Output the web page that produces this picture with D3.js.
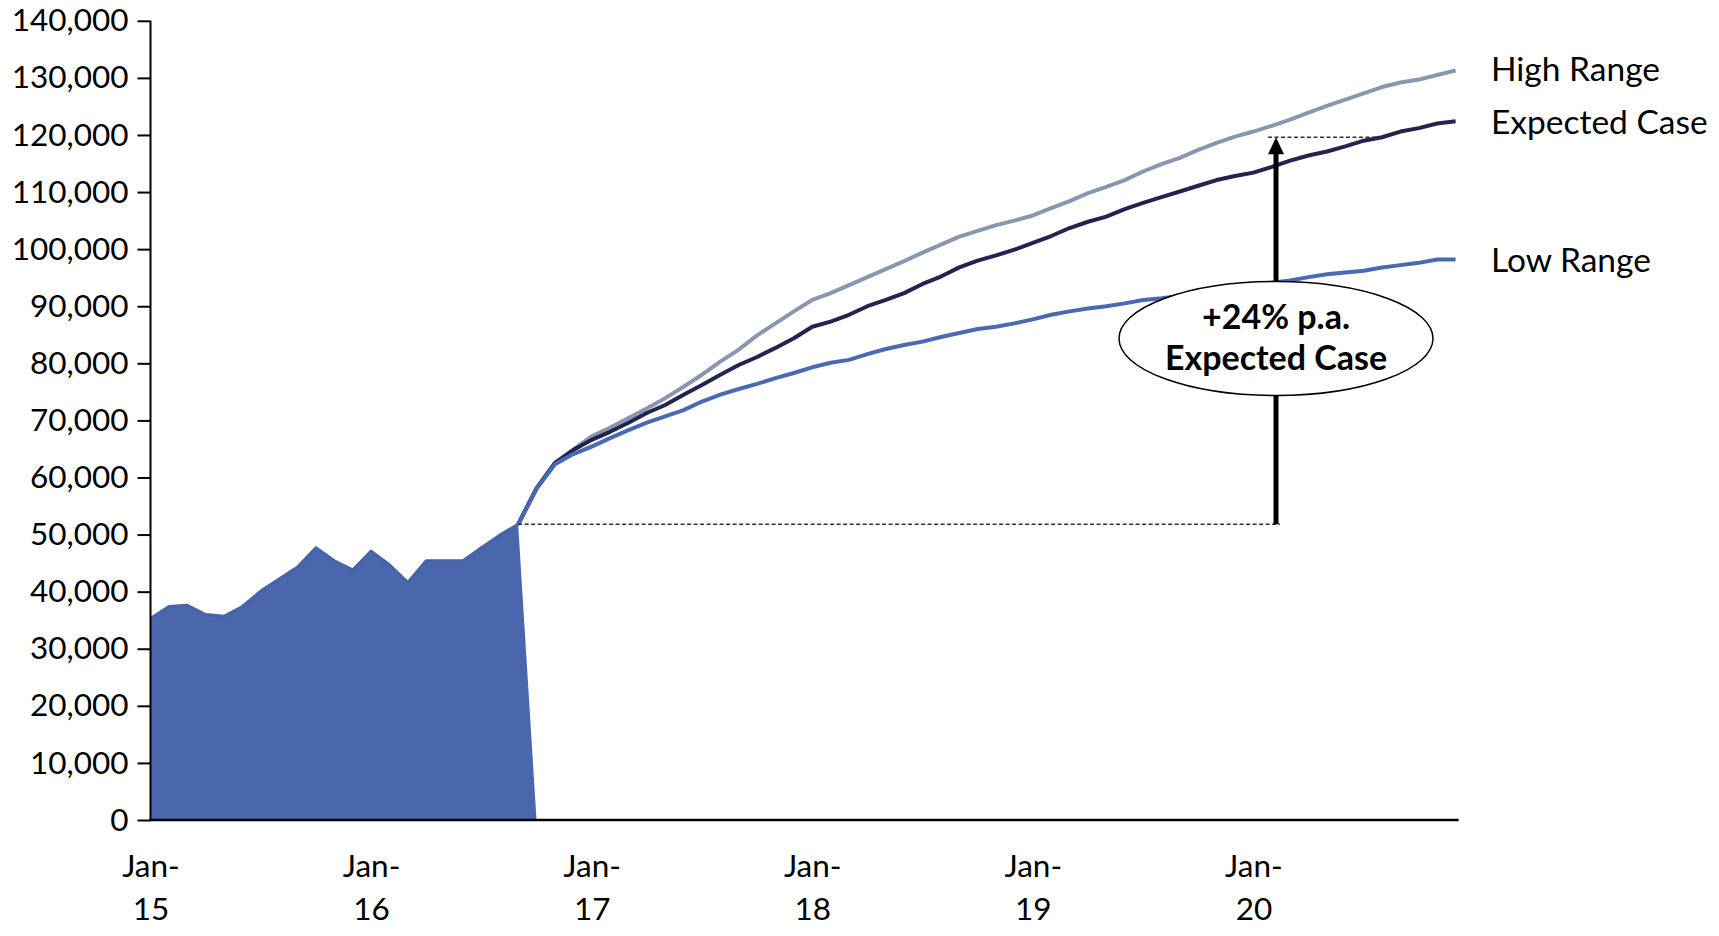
<!DOCTYPE html>
<html>
<head>
<meta charset="utf-8">
<script src="https://cdn.jsdelivr.net/npm/d3@7"></script>
<style>
  html, body { margin: 0; padding: 0; background: #ffffff; }
  svg { display: block; }
  text { font-family: Lato, "Open Sans", sans-serif; fill: #000; }
</style>
</head>
<body>
<svg id="chart" width="1719" height="936"></svg>
<script>
// ---------------- DATA ----------------
const startMonth = new Date(2015, 0, 1);
const months = d3.range(72).map(i => d3.timeMonth.offset(startMonth, i));

// Historical (area) values, Jan-15 .. Oct-16 (last point drops to 0)
const historical = [35300, 37400, 37600, 36000, 35700, 37400, 40100, 42200, 44300, 47700,
                    45400, 43800, 47100, 44700, 41600, 45400, 45400, 45400, 47700, 49900,
                    51800, 0];

// Forecast series, Sep-16 .. Dec-20
const forecastStart = 20;
const highRange = [51800, 58100, 62600, 64900, 67200, 68700, 70400, 72100, 73900, 75900,
                   78000, 80300, 82400, 84900, 87000, 89100, 91100, 92300, 93700, 95100,
                   96500, 97900, 99400, 100800, 102200, 103200, 104200, 105000, 105900, 107200,
                   108400, 109800, 110900, 112100, 113600, 114900, 116000, 117400, 118600, 119700,
                   120600, 121600, 122700, 123900, 125100, 126200, 127300, 128400, 129200, 129700,
                   130500, 131300];
const expectedCase = [51800, 58100, 62500, 64800, 66600, 68000, 69600, 71300, 72700, 74500,
                   76200, 78000, 79700, 81100, 82700, 84400, 86400, 87300, 88500, 90000,
                   91100, 92300, 93900, 95200, 96800, 98000, 98900, 99900, 101100, 102300,
                   103700, 104800, 105700, 107000, 108100, 109100, 110100, 111100, 112100, 112800,
                   113400, 114400, 115500, 116400, 117100, 118000, 119000, 119600, 120600, 121200,
                   122000, 122400];
const lowRange = [51800, 58000, 62300, 64100, 65400, 66900, 68300, 69600, 70700, 71800,
                   73300, 74500, 75500, 76400, 77400, 78300, 79300, 80100, 80600, 81600,
                   82500, 83200, 83800, 84600, 85300, 86000, 86400, 87000, 87700, 88500,
                   89100, 89600, 90000, 90500, 91100, 91400, 91800, 92300, 92800, 93300,
                   93700, 94100, 94500, 95100, 95600, 95900, 96200, 96800, 97200, 97600,
                   98200, 98200];

const seriesNames = ["High Range", "Expected Case", "Low Range"];
const yTicks = [0, 10000, 20000, 30000, 40000, 50000, 60000, 70000, 80000, 90000,
                100000, 110000, 120000, 130000, 140000];
const xTickMonths = months.filter(d => d.getMonth() === 0);

const annotationText = ["+24% p.a.", "Expected Case"];
const annotationFrom = historical[forecastStart];   // 51,800
const annotationToIndex = 67;                         // where the top dashed line meets Expected Case
const annotationTo = expectedCase[annotationToIndex - forecastStart];

// ---------------- LAYOUT ----------------
const svg = d3.select("#chart");
const x0 = 150.5, xEnd = 1455.6, yTop = 20.8, yBottom = 820;

const x = d3.scalePoint().domain(months).range([x0, xEnd]);
const y = d3.scaleLinear().domain([0, 140000]).range([yBottom, yTop]);

const colors = { area: "#4A67AD", areaStroke: "#4564A9", high: "#8797B2", expected: "#20244F", low: "#4A69B3" };

// Area (historical)
const histData = historical.map((v, i) => ({ d: months[i], v }));
svg.append("path")
  .datum(histData)
  .attr("fill", colors.area)
  .attr("d", d3.area().x(p => x(p.d)).y0(y(0)).y1(p => y(p.v)));
svg.append("path")
  .datum(histData.slice(0, forecastStart + 1))
  .attr("fill", "none")
  .attr("stroke", colors.areaStroke)
  .attr("stroke-width", 3)
  .attr("stroke-linejoin", "round")
  .attr("d", d3.line().x(p => x(p.d)).y(p => y(p.v)));

// Forecast lines
const line = d3.line().x(p => x(p.d)).y(p => y(p.v));
const toPts = arr => arr.map((v, i) => ({ d: months[forecastStart + i], v }));
const seriesList = [
  { name: seriesNames[0], values: highRange, color: colors.high },
  { name: seriesNames[1], values: expectedCase, color: colors.expected },
  { name: seriesNames[2], values: lowRange, color: colors.low }
];
seriesList.forEach(s => {
  svg.append("path")
    .datum(toPts(s.values))
    .attr("fill", "none")
    .attr("stroke", s.color)
    .attr("stroke-width", 4)
    .attr("stroke-linejoin", "round")
    .attr("d", line);
});

// Series labels
const labelDy = [11, 13, 13];
seriesList.forEach((s, i) => {
  svg.append("text")
    .attr("x", 1491)
    .attr("y", y(s.values[s.values.length - 1]) + labelDy[i])
    .attr("font-size", 33.5)
    .text(s.name);
});

// Annotation: dashed guides, arrow, ellipse
const arrowX = 1276;
const yFrom = y(annotationFrom), yTo = y(annotationTo);
svg.append("line")
  .attr("x1", x(months[forecastStart])).attr("x2", arrowX + 4)
  .attr("y1", yFrom).attr("y2", yFrom)
  .attr("stroke", "#333").attr("stroke-width", 1.5).attr("stroke-dasharray", "4,2.5");
svg.append("line")
  .attr("x1", arrowX - 8).attr("x2", x(months[annotationToIndex]))
  .attr("y1", yTo).attr("y2", yTo)
  .attr("stroke", "#333").attr("stroke-width", 1.5).attr("stroke-dasharray", "4,2.5");
svg.append("line")
  .attr("x1", arrowX).attr("x2", arrowX)
  .attr("y1", yFrom).attr("y2", yTo + 14)
  .attr("stroke", "#000").attr("stroke-width", 5);
svg.append("path")
  .attr("d", `M${arrowX},${yTo} L${arrowX + 8},${yTo + 17} L${arrowX - 8},${yTo + 17} Z`)
  .attr("fill", "#000");

svg.append("ellipse")
  .attr("cx", 1276).attr("cy", 338.5).attr("rx", 157).attr("ry", 57)
  .attr("fill", "#fff").attr("stroke", "#000").attr("stroke-width", 1.5);
svg.append("text")
  .attr("x", 1276).attr("y", 329).attr("text-anchor", "middle")
  .attr("font-size", 34).attr("font-weight", "bold")
  .text(annotationText[0]);
svg.append("text")
  .attr("x", 1276).attr("y", 370).attr("text-anchor", "middle")
  .attr("font-size", 34).attr("font-weight", "bold")
  .text(annotationText[1]);

// Y axis
const yAxis = svg.append("g")
  .attr("transform", `translate(${x0},0)`)
  .call(d3.axisLeft(y).tickValues(yTicks).tickSize(13).tickPadding(9).tickFormat(d3.format(",")));
yAxis.select(".domain").attr("stroke", "#000").attr("stroke-width", 2)
  .attr("d", `M0,${yTop}V${yBottom}`);
yAxis.selectAll(".tick line").attr("stroke", "#000").attr("stroke-width", 2);
yAxis.selectAll(".tick text").attr("font-size", 31.5).attr("font-family", "Lato, sans-serif").attr("fill", "#000");

// X axis
const fmtMon = d3.timeFormat("%b-");
const fmtYr = d3.timeFormat("%y");
const xAxis = svg.append("g")
  .attr("transform", `translate(0,${yBottom})`)
  .call(d3.axisBottom(x).tickValues(xTickMonths).tickSize(0).tickFormat(""));
xAxis.select(".domain").attr("stroke", "#000").attr("stroke-width", 2.5)
  .attr("d", `M${x0 - 1},0H${xEnd + 3}`);
xAxis.selectAll(".tick").each(function(d) {
  const t = d3.select(this).select("text");
  t.attr("font-size", 31.5).attr("font-family", "Lato, sans-serif").attr("fill", "#000")
   .attr("dy", null).attr("y", 0);
  t.append("tspan").attr("x", 0).attr("y", 57).text(fmtMon(d));
  t.append("tspan").attr("x", 0).attr("y", 100).text(fmtYr(d));
});
</script>
</body>
</html>
